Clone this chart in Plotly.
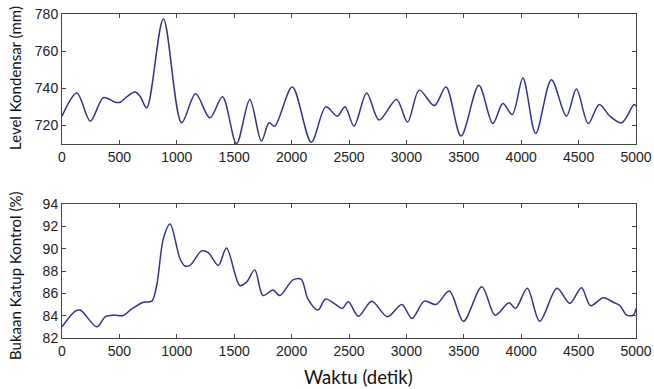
import plotly.graph_objects as go

# Top: Level Kondensar (mm)
t_level = [0, 130, 246, 362, 463, 507, 564, 637, 680, 738, 883, 1042, 1164, 1288, 1398,
           1520, 1636, 1737, 1804, 1853, 2006, 2171, 2298, 2398, 2465, 2544, 2654, 2762,
           2914, 3010, 3112, 3243, 3345, 3476, 3631, 3753, 3840, 3922, 4015, 4126, 4263,
           4394, 4481, 4584, 4680, 4773, 4875, 4983, 5000]
level = [725, 737.5, 722.3, 735, 732.5, 732.5, 735.4, 738, 735.7, 729.5, 777.3, 721.4, 737,
         724, 735.4, 710.2, 734, 711.6, 721.4, 719.6, 740.7, 711, 730, 725, 730, 719.6,
         737.5, 722.9, 734, 721.8, 739, 730.7, 740.7, 714.3, 741.6, 721, 731.8, 725.9,
         745.5, 715.7, 744.6, 725, 739.6, 721, 731.25, 725, 721.4, 731.25, 730.4]

# Bottom: Bukaan Katup Kontrol (%)
t_valve = [0, 116, 159, 304, 376, 449, 530, 608, 709, 782, 825, 883, 941, 1028, 1071, 1115,
           1216, 1274, 1361, 1433, 1549, 1607, 1679, 1751, 1838, 1896, 2012, 2084, 2142,
           2229, 2296, 2369, 2442, 2494, 2582, 2698, 2835, 2960, 3048, 3156, 3258, 3374,
           3497, 3657, 3773, 3893, 3951, 4053, 4161, 4312, 4423, 4525, 4604, 4715, 4802,
           4860, 4919, 4977, 5000]
valve = [83, 84.4, 84.5, 83, 83.9, 84.05, 84, 84.6, 85.2, 85.3, 86.7, 90.9, 92.2, 89.1,
         88.45, 88.5, 89.8, 89.65, 88.5, 90.05, 86.7, 87, 88.1, 85.8, 86.3, 85.8, 87.2,
         87.25, 85.5, 84.5, 85.5, 85.1, 84.65, 85.25, 83.95, 85.3, 83.9, 85, 83.75, 85.3,
         85, 86.2, 83.5, 86.6, 84.05, 85.15, 84.65, 86.45, 83.5, 86.45, 85.1, 86.5, 84.9,
         85.6, 85.2, 84.9, 84.05, 84.05, 84.65]

x_ticks = [0, 500, 1000, 1500, 2000, 2500, 3000, 3500, 4000, 4500, 5000]
level_ticks = [720, 740, 760, 780]
valve_ticks = [82, 84, 86, 88, 90, 92, 94]

LINE = "#33338c"
W, H = 654, 389
ML, MR, MT, MB = 62, 18, 14, 51
pw = W - ML - MR
ph = H - MT - MB

fig = go.Figure()
fig.add_trace(go.Scatter(x=t_level, y=level, mode="lines",
                         line=dict(color=LINE, width=1.5, shape="spline", smoothing=0.9),
                         xaxis="x", yaxis="y", showlegend=False))
fig.add_trace(go.Scatter(x=t_valve, y=valve, mode="lines",
                         line=dict(color=LINE, width=1.5, shape="spline", smoothing=0.9),
                         xaxis="x2", yaxis="y2", showlegend=False))

tickfont = dict(family="Liberation Sans, Arial", size=14, color="#222")
axcommon = dict(showline=True, linecolor="#444", linewidth=1, mirror="ticks",
                ticks="inside", ticklen=4, tickcolor="#444", showgrid=False,
                zeroline=False, tickfont=tickfont, automargin=False)

top_bottom = (H - MB - 144) / ph
bot_top = (H - MB - 204) / ph

fig.update_layout(
    template="none",
    width=W, height=H, margin=dict(l=ML, r=MR, t=MT, b=MB, autoexpand=False),
    paper_bgcolor="white", plot_bgcolor="white",
    xaxis=dict(domain=[0, 1], range=[0, 5000], tickvals=x_ticks, anchor="y", **axcommon),
    yaxis=dict(domain=[top_bottom, 1], range=[710, 780], tickvals=level_ticks, anchor="x", **axcommon),
    xaxis2=dict(domain=[0, 1], range=[0, 5000], tickvals=x_ticks, anchor="y2", **axcommon),
    yaxis2=dict(domain=[0, bot_top], range=[82, 94], tickvals=valve_ticks, anchor="x2", **axcommon),
)

titlefont = dict(family="Lato, Open Sans", size=15, color="#111")
fig.add_annotation(text="Level Kondensar (mm)", xref="paper", yref="paper",
                   x=-(ML - 15) / pw, y=(H - MB - 78) / ph, showarrow=False,
                   textangle=-90, font=titlefont, xanchor="center", yanchor="middle")
fig.add_annotation(text="Bukaan Katup Kontrol (%)", xref="paper", yref="paper",
                   x=-(ML - 15) / pw, y=(H - MB - 276) / ph, showarrow=False,
                   textangle=-90, font=titlefont, xanchor="center", yanchor="middle")
fig.add_annotation(text="Waktu (detik)", xref="paper", yref="paper",
                   x=(358 - ML) / pw, y=-(377 - (H - MB)) / ph, showarrow=False,
                   font=dict(family="Lato, Open Sans", size=18.5, color="#111"),
                   xanchor="center", yanchor="middle")

fig.write_html("out.html", config={"displayModeBar": False},
               post_script="document.body.style.margin='0';document.body.style.overflow='hidden';")
